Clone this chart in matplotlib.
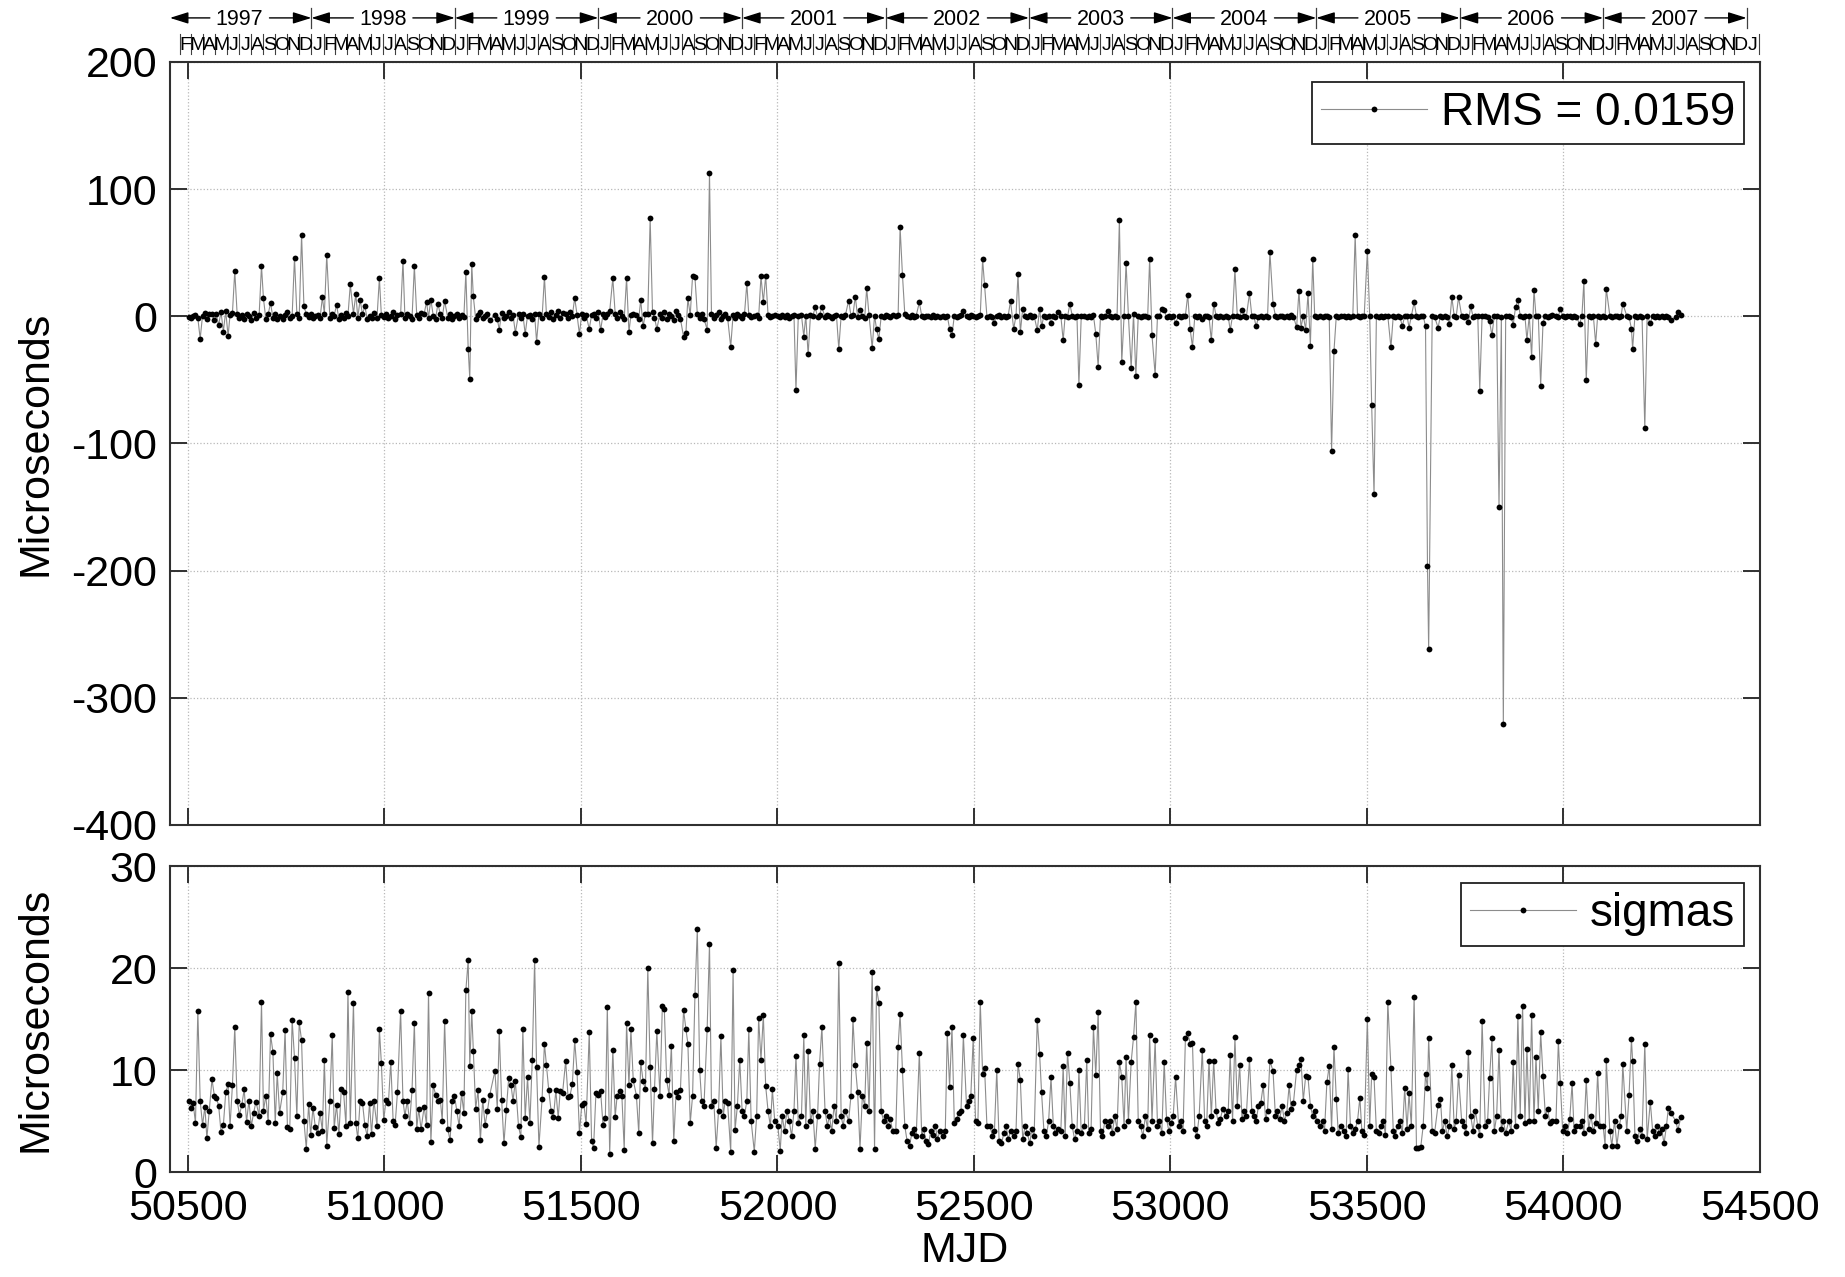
import datetime as dt
import matplotlib
matplotlib.use('Agg')
import matplotlib.pyplot as plt
from matplotlib import font_manager
from matplotlib.transforms import blended_transform_factory

plt.rcParams['font.family'] = ['Liberation Sans', 'DejaVu Sans']
plt.rcParams['axes.unicode_minus'] = False

# session epochs (MJD), residuals and formal errors, both in microseconds
mjd = [
    50502, 50508, 50513, 50519, 50525, 50531, 50537, 50543, 50548, 50554,
    50561, 50567, 50572, 50578, 50584, 50590, 50596, 50602, 50607, 50613,
    50619, 50625, 50631, 50637, 50643, 50649, 50655, 50661, 50667, 50673,
    50681, 50687, 50692, 50698, 50704, 50710, 50716, 50722, 50727, 50733,
    50741, 50747, 50753, 50759, 50765, 50771, 50777, 50783, 50789, 50795,
    50801, 50807, 50812, 50818, 50824, 50830, 50836, 50842, 50847, 50853,
    50861, 50867, 50872, 50878, 50884, 50890, 50896, 50902, 50907, 50913,
    50921, 50927, 50932, 50938, 50944, 50950, 50956, 50962, 50967, 50973,
    50981, 50987, 50992, 50998, 51004, 51010, 51016, 51022, 51027, 51033,
    51041, 51047, 51052, 51058, 51064, 51070, 51076, 51082, 51087, 51093,
    51101, 51107, 51112, 51118, 51124, 51130, 51136, 51142, 51147, 51153,
    51161, 51167, 51172, 51178, 51184, 51190, 51196, 51202, 51207, 51213,
    51217, 51222, 51226, 51232, 51238, 51244, 51250, 51256, 51262, 51268,
    51281, 51287, 51292, 51298, 51304, 51310, 51316, 51322, 51327, 51333,
    51341, 51347, 51352, 51358, 51364, 51370, 51376, 51382, 51387, 51393,
    51401, 51407, 51412, 51418, 51424, 51430, 51436, 51442, 51447, 51453,
    51461, 51467, 51472, 51478, 51484, 51490, 51496, 51502, 51507, 51513,
    51521, 51527, 51532, 51538, 51544, 51550, 51556, 51562, 51567, 51573,
    51581, 51587, 51592, 51598, 51604, 51610, 51616, 51622, 51627, 51633,
    51641, 51647, 51652, 51658, 51664, 51670, 51676, 51682, 51687, 51693,
    51701, 51707, 51712, 51718, 51724, 51730, 51736, 51742, 51747, 51753,
    51761, 51767, 51772, 51778, 51784, 51790, 51796, 51802, 51807, 51813,
    51821, 51827, 51832, 51838, 51844, 51850, 51856, 51862, 51867, 51873,
    51881, 51887, 51892, 51898, 51904, 51910, 51916, 51922, 51927, 51933,
    51941, 51947, 51952, 51958, 51964, 51970, 51976, 51982, 51987, 51993,
    52001, 52007, 52012, 52018, 52024, 52030, 52036, 52042, 52047, 52053,
    52061, 52067, 52072, 52078, 52084, 52090, 52096, 52102, 52107, 52113,
    52121, 52127, 52132, 52138, 52144, 52150, 52156, 52162, 52167, 52173,
    52181, 52187, 52192, 52198, 52204, 52210, 52216, 52222, 52227, 52233,
    52241, 52247, 52252, 52258, 52264, 52270, 52276, 52282, 52287, 52293,
    52301, 52307, 52312, 52318, 52324, 52330, 52336, 52342, 52347, 52353,
    52361, 52367, 52372, 52378, 52384, 52390, 52396, 52402, 52407, 52413,
    52421, 52427, 52432, 52438, 52444, 52450, 52456, 52462, 52467, 52473,
    52481, 52487, 52492, 52498, 52504, 52510, 52516, 52522, 52527, 52533,
    52541, 52547, 52552, 52558, 52564, 52570, 52576, 52582, 52587, 52593,
    52601, 52607, 52612, 52618, 52624, 52630, 52636, 52642, 52647, 52653,
    52661, 52667, 52672, 52678, 52684, 52690, 52696, 52702, 52707, 52713,
    52721, 52727, 52732, 52738, 52744, 52750, 52756, 52762, 52767, 52773,
    52781, 52787, 52792, 52798, 52804, 52810, 52816, 52822, 52827, 52833,
    52841, 52847, 52852, 52858, 52864, 52870, 52876, 52882, 52887, 52893,
    52900, 52906, 52912, 52918, 52924, 52930, 52936, 52942, 52947, 52953,
    52961, 52967, 52972, 52978, 52984, 52990, 52996, 53002, 53007, 53013,
    53021, 53027, 53032, 53038, 53044, 53050, 53056, 53062, 53067, 53073,
    53081, 53087, 53092, 53098, 53104, 53110, 53116, 53122, 53127, 53133,
    53141, 53147, 53152, 53158, 53164, 53170, 53176, 53182, 53187, 53193,
    53201, 53207, 53212, 53218, 53224, 53230, 53236, 53242, 53247, 53253,
    53261, 53267, 53272, 53278, 53284, 53290, 53296, 53302, 53307, 53313,
    53321, 53327, 53332, 53338, 53344, 53350, 53356, 53362, 53367, 53373,
    53381, 53387, 53392, 53398, 53404, 53410, 53416, 53422, 53427, 53433,
    53441, 53447, 53452, 53458, 53464, 53470, 53476, 53482, 53487, 53493,
    53501, 53507, 53512, 53518, 53524, 53530, 53536, 53542, 53547, 53553,
    53561, 53567, 53572, 53578, 53584, 53590, 53596, 53602, 53607, 53613,
    53620, 53626, 53631, 53637, 53643, 53649, 53654, 53657, 53666, 53672,
    53681, 53687, 53692, 53698, 53704, 53710, 53716, 53722, 53727, 53733,
    53741, 53747, 53752, 53758, 53764, 53770, 53776, 53782, 53787, 53793,
    53801, 53807, 53812, 53818, 53824, 53830, 53836, 53842, 53847, 53853,
    53861, 53867, 53872, 53878, 53884, 53890, 53896, 53902, 53907, 53913,
    53919, 53925, 53930, 53936, 53942, 53948, 53954, 53960, 53965, 53971,
    53981, 53987, 53992, 53998, 54004, 54010, 54016, 54022, 54027, 54033,
    54041, 54047, 54052, 54058, 54064, 54070, 54076, 54082, 54087, 54093,
    54101, 54106, 54109, 54118, 54123, 54130, 54136, 54142, 54147, 54151,
    54161, 54167, 54173, 54176, 54182, 54188, 54194, 54200, 54207, 54213,
    54221, 54227, 54232, 54238, 54244, 54250, 54256, 54262, 54267, 54273,
    54286, 54291, 54299,
]

resid = [
    -0.8, -1.2, 0.4, 1.0, -1.5, -17.6, 0.6, 2.5, -2.0, 1.8,
    2.0, -3.0, 1.5, -7.0, 3.5, -12.0, 4.0, -15.5, 1.0, 2.2,
    35.5, 2.0, -1.5, 0.8, -2.5, 1.5, 0.2, -3.0, 2.5, -1.0,
    1.0, 39.5, 14.0, -2.0, 1.5, 10.5, -1.0, 2.0, -2.5, 0.5,
    -2.0, 1.0, 3.0, -1.5, 0.5, 46.0, 2.0, -1.0, 64.0, 8.0,
    1.5, -0.5, 2.0, -1.0, 0.5, 1.0, -1.5, 15.0, 2.0, 48.0,
    -1.0, 1.5, 0.5, 9.0, -2.0, 1.0, -1.5, 2.5, 0.5, 25.0,
    2.0, 17.6, -1.0, 13.0, 1.5, 8.0, -2.0, 0.5, -1.5, 2.5,
    -1.0, 30.0, 1.0, -0.5, 2.0, -1.5, 0.5, 3.0, -2.0, 1.0,
    1.5, 43.7, -1.0, 2.0, 0.5, -2.0, 39.5, 1.0, -1.0, 2.5,
    2.0, 11.5, -1.0, 13.0, 0.5, -2.0, 10.0, 1.5, -1.0, 12.0,
    -1.0, 1.5, -2.0, 0.5, 2.0, -1.5, 1.0, -0.5, 34.5, -25.8,
    -49.0, 41.0, 15.8, -2.0, 1.0, 3.0, -1.5, 0.5, 2.0, -3.0,
    1.0, -2.0, -10.5, 2.5, -1.0, 0.5, 3.0, -1.5, 1.0, -13.0,
    1.5, -1.0, 2.0, -14.0, 0.5, 1.0, -2.0, 1.5, -20.0, 2.0,
    -1.0, 31.0, 2.0, -0.5, 3.0, -2.0, 1.0, 4.0, -1.5, 2.5,
    2.0, -1.0, 3.0, 0.5, 14.5, 1.0, -14.0, 2.0, -1.5, 1.0,
    -10.0, 1.0, 2.0, -1.0, 3.0, -11.0, 1.5, -0.5, 2.0, 4.0,
    30.0, 2.0, -1.0, 3.0, 0.5, -2.0, 30.0, -12.6, 1.0, 2.0,
    1.0, -2.0, 13.0, -8.0, 2.0, 1.5, 77.0, 3.0, -1.0, -10.0,
    2.0, -1.0, 3.0, -2.0, 1.5, 0.5, -3.0, 4.0, 1.0, -2.0,
    -16.0, -13.0, 14.0, 1.0, 32.0, 30.5, 2.0, -1.0, 1.5, -2.0,
    -10.5, 112.6, 2.0, -1.0, 1.0, 3.0, -2.0, 0.5, 1.5, -1.0,
    -24.0, 1.0, -1.5, 2.0, 0.5, -1.0, 1.5, 26.0, 1.0, -0.5,
    0.5, 1.0, -1.0, 31.6, 11.0, 32.0, 1.0, -0.5, 0.5, 1.0,
    0.5, -0.8, 1.0, -0.3, 0.8, -1.2, 0.4, 1.0, -58.0, 0.6,
    0.8, -16.0, 0.5, -30.0, 1.0, 0.3, 7.0, -0.5, 1.2, 7.0,
    -0.5, 0.8, 0.3, -1.0, 0.6, 1.2, -25.5, 0.4, -0.8, 1.0,
    12.4, 0.5, 1.0, 15.5, -0.5, 5.0, 0.3, -1.0, 22.0, 0.8,
    -25.0, 0.6, -10.0, -18.0, 0.5, -0.3, 1.0, 0.4, -0.6, 0.8,
    0.5, 1.0, 70.0, 32.6, 1.5, 0.3, -0.5, 0.8, -0.3, 0.6,
    11.0, 0.3, -0.5, 0.6, 0.2, -0.4, 0.8, -0.2, 0.4, -0.6,
    0.4, -0.3, 0.5, -10.0, -15.0, 0.6, -0.4, 0.3, 0.8, 4.0,
    0.5, -0.5, 1.0, 0.3, -0.6, 0.4, 0.8, 44.7, 24.7, -0.3,
    0.6, -0.4, -5.0, 0.3, 0.8, -0.2, 0.5, -0.6, 0.4, 12.0,
    -10.0, 0.5, 33.0, -12.6, 6.0, 0.3, -0.5, 0.8, -0.3, 0.4,
    -11.0, 6.0, -8.0, 0.5, -0.3, 0.6, -5.0, 0.4, -0.4, 3.0,
    0.4, -19.0, 0.5, -0.3, 9.5, 0.6, -0.4, 0.3, -54.0, 0.5,
    0.3, -0.5, 0.6, -0.4, 0.8, -14.0, -39.5, 0.5, -0.3, 0.4,
    4.0, 0.5, -0.3, 0.6, -0.5, 76.0, -36.0, 0.4, 42.0, 0.3,
    -41.0, 2.0, -47.0, 0.5, -0.4, 0.3, 0.6, -0.5, 45.0, -15.0,
    -46.0, 0.5, 0.3, 6.0, 5.0, -0.4, 0.6, -0.3, 0.4, -5.0,
    0.4, -0.3, 0.6, 0.5, 17.0, -10.0, -24.0, 0.3, -0.5, 0.4,
    -2.0, 0.5, 0.3, -0.4, -19.0, 10.0, 0.6, -0.3, 0.4, -0.5,
    0.5, -0.3, -11.0, 0.4, 37.0, 0.6, -0.4, 5.0, 0.3, -0.5,
    18.0, 0.5, 0.3, -8.0, -0.4, 0.6, -0.3, 0.4, -0.5, 50.5,
    10.0, 0.5, -0.3, 0.4, 0.6, -0.4, 0.3, -0.5, 0.8, -0.3,
    -8.7, 20.0, -9.0, 0.5, -10.5, 18.0, -23.0, 45.0, 0.4, -0.3,
    0.5, -0.3, 0.4, 0.6, -0.5, -106.0, -27.6, 0.3, -0.4, 0.5,
    0.4, -0.3, 0.5, -0.4, 0.3, 64.0, 0.6, -0.5, 0.3, 0.4,
    51.0, 0.5, -70.0, -140.0, 0.4, -0.3, 0.6, -0.5, 0.3, 0.4,
    -24.5, 0.5, -0.3, 0.4, -0.5, -8.0, 0.3, 0.6, -9.0, 0.4,
    11.0, 0.4, -0.3, 0.5, 0.6, -8.0, -196.0, -262.0, 0.3, -0.4,
    -9.0, 0.5, -0.3, 0.4, -0.5, -6.0, 15.0, 0.3, -0.4, 15.0,
    0.4, -0.3, 0.5, -4.7, 8.0, -0.4, 0.3, 0.6, -58.4, 0.5,
    0.3, -0.4, -4.0, -15.0, 0.5, 0.4, -150.0, -0.3, -321.0, 0.5,
    0.4, -0.3, -7.0, 7.0, 12.6, 0.5, -0.4, 0.3, -18.7, 0.6,
    -32.0, 21.0, 0.5, 0.6, -54.5, -5.0, 0.4, -0.3, 0.5, 0.8,
    0.5, -0.3, 6.0, 0.4, -0.5, 0.3, 0.6, -0.4, 0.3, -0.5,
    -6.0, 0.4, 27.4, -50.5, 0.5, -0.3, 0.6, -21.6, 0.4, -0.3,
    0.4, -0.3, 21.8, 0.5, -0.4, 0.3, 0.5, -0.3, 0.6, 10.0,
    0.4, -0.3, -10.0, -25.5, 0.5, -0.4, 0.3, -0.5, -88.0, 0.4,
    -5.5, 0.4, -0.3, 0.5, -0.6, 0.3, -0.4, 0.5, -0.5, -3.0,
    -0.5, 3.0, 1.0,
]

sigma = [
    7.0, 6.3, 6.8, 4.8, 15.8, 7.0, 4.6, 6.4, 3.3, 6.0,
    9.1, 7.5, 7.3, 6.5, 3.9, 4.6, 7.8, 8.6, 4.5, 8.5,
    14.2, 7.0, 5.6, 6.6, 8.1, 4.9, 7.0, 4.5, 5.8, 6.9,
    5.5, 16.7, 6.0, 7.5, 4.9, 13.5, 11.8, 4.8, 9.7, 5.8,
    7.8, 13.9, 4.4, 4.2, 14.9, 11.2, 5.5, 14.7, 12.9, 5.0,
    2.3, 6.7, 3.6, 6.3, 4.4, 3.8, 5.8, 4.0, 11.0, 2.6,
    7.0, 13.4, 4.3, 6.6, 3.7, 8.1, 7.8, 4.5, 17.7, 4.8,
    16.6, 4.8, 3.3, 7.0, 6.8, 4.6, 3.5, 6.8, 3.7, 7.0,
    4.5, 14.0, 10.7, 5.1, 7.1, 6.8, 10.8, 5.0, 4.6, 7.8,
    15.8, 7.0, 5.5, 7.0, 4.8, 8.0, 14.6, 4.2, 6.2, 4.2,
    6.4, 4.6, 17.6, 2.9, 8.5, 7.6, 7.0, 7.1, 5.0, 14.8,
    4.2, 3.1, 7.0, 7.5, 6.0, 4.5, 7.7, 5.8, 17.8, 20.8,
    10.4, 15.8, 11.9, 6.2, 8.0, 3.1, 7.1, 4.6, 6.0, 7.6,
    9.9, 6.2, 13.8, 7.1, 2.8, 6.1, 9.2, 8.5, 7.0, 8.9,
    4.5, 3.4, 14.0, 5.3, 9.3, 4.8, 11.0, 20.8, 10.3, 2.5,
    7.2, 12.6, 10.5, 8.0, 6.0, 5.4, 8.0, 5.3, 7.9, 7.7,
    10.9, 7.4, 7.5, 8.6, 12.9, 9.8, 3.8, 6.6, 6.8, 4.7,
    13.7, 3.0, 2.4, 7.7, 7.6, 7.9, 4.6, 5.3, 16.2, 1.8,
    12.0, 5.4, 7.5, 7.9, 7.5, 2.2, 14.6, 8.5, 14.0, 9.0,
    7.5, 3.8, 10.8, 8.9, 8.1, 20.0, 10.3, 2.8, 8.1, 13.8,
    7.5, 16.3, 16.0, 9.0, 7.6, 12.4, 3.0, 7.8, 7.4, 8.0,
    15.9, 14.0, 12.6, 4.8, 7.5, 17.4, 23.8, 10.0, 7.0, 6.5,
    14.0, 22.4, 6.5, 7.0, 2.4, 6.0, 13.3, 5.5, 7.0, 6.8,
    2.0, 19.8, 4.1, 6.5, 11.0, 6.0, 5.5, 7.0, 14.0, 5.0,
    2.0, 5.5, 15.1, 11.0, 15.4, 8.4, 6.0, 4.5, 8.1, 5.0,
    4.5, 2.1, 5.5, 4.0, 6.0, 5.0, 3.5, 6.0, 11.4, 4.8,
    5.5, 13.4, 4.5, 11.9, 5.0, 6.0, 2.3, 5.5, 10.6, 14.2,
    6.0, 4.5, 5.5, 4.0, 6.5, 5.0, 20.5, 5.5, 4.5, 6.0,
    5.0, 7.5, 15.0, 10.5, 7.8, 2.3, 7.5, 6.5, 12.7, 6.0,
    19.6, 2.3, 18.0, 16.6, 6.0, 5.0, 5.5, 4.5, 5.2, 4.0,
    4.0, 12.3, 15.5, 10.0, 4.5, 3.0, 2.6, 3.8, 4.2, 3.5,
    11.7, 3.5, 4.2, 3.0, 2.7, 4.0, 3.6, 4.5, 3.2, 4.0,
    3.5, 4.0, 13.6, 8.3, 14.2, 4.8, 5.2, 5.8, 6.0, 13.4,
    6.5, 7.0, 7.5, 13.1, 5.0, 4.8, 16.7, 9.6, 10.2, 4.5,
    4.5, 3.5, 4.0, 10.0, 3.0, 2.8, 3.8, 4.5, 3.2, 4.0,
    3.5, 4.0, 10.6, 9.0, 3.2, 4.5, 3.8, 2.8, 4.2, 3.5,
    14.9, 11.6, 7.8, 4.0, 3.5, 5.0, 9.3, 4.5, 3.8, 4.2,
    4.0, 10.4, 3.5, 11.7, 8.7, 4.5, 3.2, 4.0, 10.0, 3.8,
    4.5, 11.0, 3.8, 4.2, 14.2, 9.5, 15.7, 4.0, 3.5, 5.0,
    4.5, 5.0, 3.8, 5.5, 4.2, 10.8, 9.3, 4.5, 11.3, 5.0,
    10.8, 13.2, 16.7, 5.0, 4.5, 3.5, 5.5, 4.2, 13.4, 5.0,
    12.9, 4.5, 5.0, 3.8, 10.8, 5.2, 4.0, 4.8, 5.5, 9.3,
    4.5, 5.0, 4.0, 13.1, 13.6, 12.6, 12.7, 4.2, 3.5, 5.5,
    12.0, 5.0, 4.5, 10.9, 5.5, 10.9, 6.0, 4.8, 5.2, 6.2,
    5.5, 6.0, 11.5, 5.0, 13.2, 6.5, 10.5, 5.2, 6.0, 5.5,
    11.1, 6.0, 5.5, 5.0, 6.5, 6.8, 8.5, 5.2, 6.0, 10.9,
    9.9, 5.5, 6.0, 5.2, 6.5, 5.0, 5.8, 8.5, 6.2, 6.8,
    10.0, 10.5, 11.1, 7.0, 9.4, 9.3, 6.5, 5.5, 6.0, 5.0,
    4.5, 5.0, 4.0, 8.8, 10.4, 4.2, 12.3, 7.2, 3.8, 4.5,
    4.0, 3.5, 10.1, 4.5, 3.8, 4.2, 5.0, 7.3, 4.0, 3.6,
    15.0, 4.5, 9.6, 9.3, 4.0, 3.8, 4.5, 5.0, 3.6, 16.7,
    10.2, 4.0, 3.5, 4.5, 5.0, 3.8, 8.2, 4.2, 7.7, 4.5,
    17.2, 2.4, 2.4, 2.5, 4.5, 9.6, 8.2, 13.1, 4.0, 3.8,
    6.6, 7.2, 4.0, 5.0, 3.5, 4.5, 10.5, 4.2, 5.0, 9.5,
    5.0, 4.5, 3.8, 11.8, 5.5, 4.0, 6.0, 4.5, 3.6, 14.8,
    4.5, 5.0, 9.2, 13.1, 4.0, 5.5, 12.0, 4.2, 5.0, 3.8,
    5.0, 4.0, 10.8, 4.5, 15.3, 5.5, 16.3, 4.8, 12.1, 5.0,
    15.4, 5.0, 11.3, 6.0, 13.7, 9.4, 5.5, 6.2, 4.8, 5.0,
    5.0, 12.8, 8.7, 4.0, 4.5, 3.8, 5.2, 8.7, 4.0, 4.5,
    4.5, 5.0, 3.8, 9.0, 4.2, 5.5, 4.0, 4.8, 9.7, 4.5,
    4.5, 2.6, 11.0, 4.0, 2.6, 5.0, 2.6, 4.5, 5.5, 10.6,
    4.0, 7.6, 13.0, 10.9, 3.5, 3.0, 4.2, 3.5, 12.6, 3.2,
    6.9, 4.0, 3.5, 4.5, 3.8, 4.2, 2.8, 4.5, 6.3, 5.8,
    5.0, 4.1, 5.4,
]

rms_label = 'RMS = 0.0159'
sigma_label = 'sigmas'
month_letters = 'JFMAMJJASOND'
years = list(range(1997, 2008))
x_lim = (50454, 54500)


def date_to_mjd(year, month):
    return (dt.date(year, month, 1) - dt.date(1858, 11, 17)).days


fs = 31
line_kw = dict(color='#8c8c8c', lw=0.8, marker='o', ms=4.2,
               mfc='k', mec='k', mew=0)
spine_col = '#303030'

fig = plt.figure(figsize=(18.45, 12.77), dpi=100)
ax1 = fig.add_axes([0.0921, 0.354, 0.8618, 0.5975])
ax2 = fig.add_axes([0.0921, 0.0822, 0.8618, 0.2396])

ax1.plot(mjd, resid, label=rms_label, **line_kw)
ax2.plot(mjd, sigma, label=sigma_label, **line_kw)

for ax in (ax1, ax2):
    ax.set_xlim(*x_lim)
    ax.set_xticks(range(50500, 54501, 500))
    ax.set_axisbelow(True)
    ax.grid(True, ls=':', lw=0.9, color='#b8b8b8')
    ax.tick_params(direction='in', length=12, width=1.4, top=True, right=True,
                   labelsize=fs, pad=9, color=spine_col)
    for sp in ax.spines.values():
        sp.set_linewidth(1.5)
        sp.set_color(spine_col)
    ax.set_ylabel('Microseconds', fontsize=fs)
    ax.yaxis.set_label_coords(-0.072, 0.5)

ax1.set_ylim(-400, 200)
ax1.set_yticks(range(-400, 201, 100))
ax1.tick_params(labelbottom=False)
ax2.set_ylim(0, 30)
ax2.set_yticks([0, 10, 20, 30])
ax2.tick_params(axis='x', pad=12)
ax2.set_xlabel('MJD', fontsize=fs, labelpad=2)

leg_kw = dict(loc='upper right', borderaxespad=0, fancybox=False,
              edgecolor='#202020', framealpha=1, fontsize=33, numpoints=1,
              handlelength=2.3, handletextpad=0.3, borderpad=0.2)
leg1 = ax1.legend(bbox_to_anchor=(0.990, 0.974), **leg_kw)
leg2 = ax2.legend(bbox_to_anchor=(0.990, 0.944), **leg_kw)
for leg in (leg1, leg2):
    leg.get_frame().set_linewidth(1.3)

# calendar strip above the top panel: years with arrows, month initials
names = {f.name for f in font_manager.fontManager.ttflist}
month_font = 'Liberation Sans Narrow' if 'Liberation Sans Narrow' in names else 'Liberation Sans'
trans = blended_transform_factory(ax1.transData, ax1.transAxes)
y_year_txt, y_arrow = 1.0478, 1.0577
y_month_txt = 1.0151

for y in years:
    for m in range(12):
        a = date_to_mjd(y, m + 1)
        b = date_to_mjd(y + 1, 1) if m == 11 else date_to_mjd(y, m + 2)
        if a >= x_lim[0] and b <= x_lim[1]:
            ax1.text((a + b) / 2, y_month_txt, month_letters[m], transform=trans,
                     ha='center', va='baseline', fontsize=14, family=month_font,
                     clip_on=False)
        if a > x_lim[0]:
            ax1.plot([a, a], [1.011, 1.036], transform=trans, color='#404040',
                     lw=0.8, clip_on=False)
# January after the last labelled year
a, b = date_to_mjd(years[-1] + 1, 1), date_to_mjd(years[-1] + 1, 2)
if b <= x_lim[1]:
    ax1.text((a + b) / 2, y_month_txt, month_letters[0], transform=trans,
             ha='center', va='baseline', fontsize=14, family=month_font, clip_on=False)
    ax1.plot([b, b], [1.011, 1.036], transform=trans, color='#404040',
             lw=0.8, clip_on=False)

fig.canvas.draw()
renderer = fig.canvas.get_renderer()
inv = ax1.transData.inverted()
arrow_kw = dict(arrowstyle='-|>,head_length=0.7,head_width=0.22', color='k',
                lw=1.0, shrinkA=0, shrinkB=0, mutation_scale=16)
for y in years:
    a, b = date_to_mjd(y, 1), date_to_mjd(y + 1, 1)
    t = ax1.text((a + b) / 2, y_year_txt, str(y), transform=trans, ha='center',
                 va='baseline', fontsize=15.5, clip_on=False)
    bb = t.get_window_extent(renderer)
    left = inv.transform((bb.x0 - 6, 0))[0]
    right = inv.transform((bb.x1 + 6, 0))[0]
    ax1.annotate('', xy=(max(a, x_lim[0]), y_arrow), xytext=(left, y_arrow),
                 xycoords=trans, textcoords=trans, arrowprops=arrow_kw,
                 annotation_clip=False)
    ax1.annotate('', xy=(min(b, x_lim[1]), y_arrow), xytext=(right, y_arrow),
                 xycoords=trans, textcoords=trans, arrowprops=arrow_kw,
                 annotation_clip=False)
    if b <= x_lim[1]:
        ax1.plot([b, b], [1.044, 1.071], transform=trans, color='#404040',
                 lw=0.9, clip_on=False)

fig.savefig('out.png', dpi=100)
